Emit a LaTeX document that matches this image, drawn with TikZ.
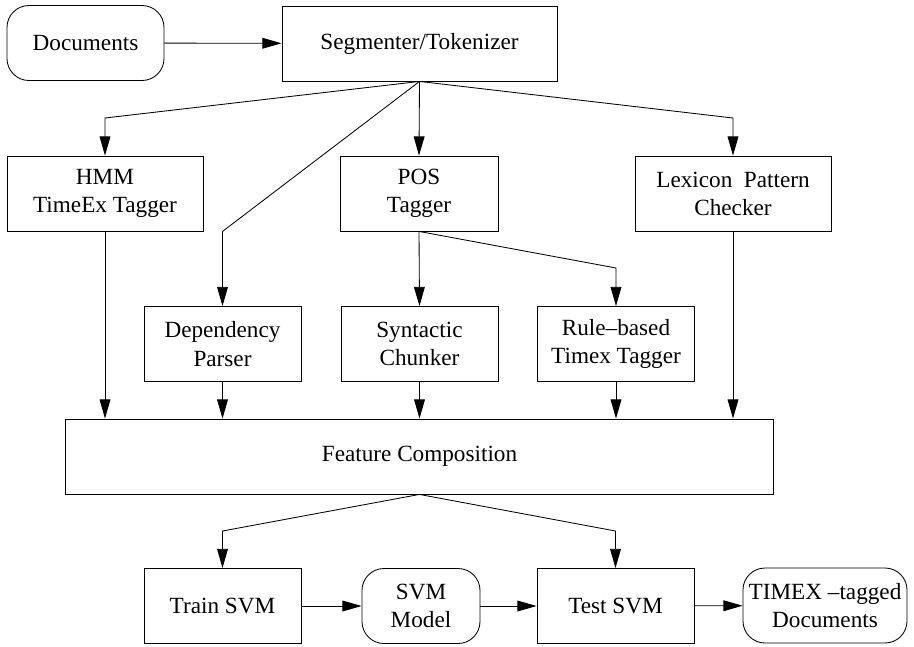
\documentclass[tikz,border=0pt]{standalone}
\usepackage{fontspec}
\setmainfont{Liberation Serif}
\newfontfamily\diagfont[Ligatures=TeX]{Liberation Serif}
\usetikzlibrary{arrows.meta,positioning}

\begin{document}
\begin{tikzpicture}[x=0.025cm,y=-0.025cm,
    font=\diagfont\fontsize{16.5}{20}\selectfont,
    box/.style={draw,line width=0.6pt,align=center,minimum height=1.875cm,inner sep=2pt},
    roundbox/.style={box,rounded corners=0.55cm},
    arr/.style={-{Triangle[length=0.48cm,width=0.27cm]},line width=0.6pt}]
      \useasboundingbox (0,0) rectangle (914,646);
      % top row
      \node[roundbox,minimum width=3.925cm] (docs) at (85.5,43) {Documents};
      \node[box,minimum width=6.875cm] (seg) at (419.5,43.5) {Segmenter/Tokenizer};
      % first level
      \node[box,minimum width=4.9cm] (hmm) at (105,193.5) {HMM\\TimeEx Tagger};
      \node[box,minimum width=3.95cm] (pos) at (419,193.5) {POS\\Tagger};
      \node[box,minimum width=4.9cm] (lex) at (733,193.5) {Lexicon\ \ Pattern\\Checker};
      % second level
      \node[box,minimum width=3.925cm] (dep) at (222.5,344) {Dependency\\Parser};
      \node[box,minimum width=3.925cm] (syn) at (419.5,344) {Syntactic\\Chunker};
      \node[box,minimum width=3.925cm] (rule) at (616,344) {Rule--based\\Timex Tagger};
      \node[box,minimum width=17.675cm] (feat) at (419.5,456.5) {Feature Composition};
      % bottom row
      \node[box,minimum width=3.925cm] (train) at (222.5,606) {Train SVM};
      \node[roundbox,minimum width=2.95cm] (model) at (421,606) {SVM\\Model};
      \node[box,minimum width=3.925cm] (test) at (615.5,606) {Test SVM};
      \node[roundbox,minimum width=4.1cm] (timex) at (825,605.5) {TIMEX --tagged\\Documents};
      \coordinate (bendtop) at (0,118);
      \coordinate (bendmid) at (0,268);
      \coordinate (bendlow) at (0,531);
      \draw[arr] (docs) -- (seg);
      \draw[arr] (seg.south) -- (hmm.north |- bendtop) -- (hmm.north);
      \draw[arr] (seg.south) -- (dep.north |- hmm.south) -- (dep.north);
      \draw[arr] (seg.south) -- (pos.north);
      \draw[arr] (seg.south) -- (lex.north |- bendtop) -- (lex.north);
      \draw[arr] (pos.south) -- (syn.north);
      \draw[arr] (pos.south) -- (rule.north |- bendmid) -- (rule.north);
      \draw[arr] (hmm.south) -- (hmm.south |- feat.north);
      \draw[arr] (dep.south) -- (dep.south |- feat.north);
      \draw[arr] (syn.south) -- (syn.south |- feat.north);
      \draw[arr] (rule.south) -- (rule.south |- feat.north);
      \draw[arr] (lex.south) -- (lex.south |- feat.north);
      \draw[arr] (feat.south) -- (train.north |- bendlow) -- (train.north);
      \draw[arr] (feat.south) -- (test.north |- bendlow) -- (test.north);
      \draw[arr] (train) -- (model);
      \draw[arr] (model) -- (test);
      \draw[arr] (test) -- (timex);
    \end{tikzpicture}
\end{document}
